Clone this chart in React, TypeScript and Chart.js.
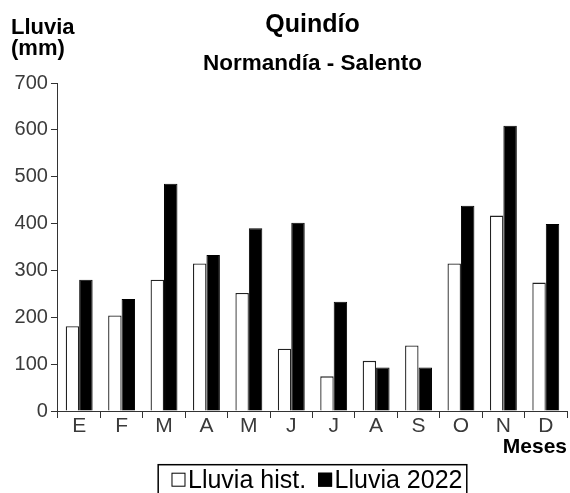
import React, { useEffect, useRef } from "react";
import { Chart, registerables } from "chart.js";

Chart.register(...registerables);

const months = ["E", "F", "M", "A", "M", "J", "J", "A", "S", "O", "N", "D"];
const lluviaHist = [181, 204, 280, 315, 252, 133, 74, 107, 140, 315, 417, 274];
const lluvia2022 = [280, 239, 485, 333, 390, 402, 233, 93, 93, 438, 609, 399];
const yTicks = [0, 100, 200, 300, 400, 500, 600, 700];
const seriesNames = ["Lluvia hist.", "Lluvia 2022"];
const titleText = "Quindío";
const subtitleText = "Normandía - Salento";
const yTitleLines = ["Lluvia", "(mm)"];
const xTitleText = "Meses";

const FAMILY = "'Liberation Sans', Arial, Helvetica, sans-serif";

const yLabelPlugin = {
  id: "yLabelTop",
  afterDraw(chart: any) {
    const ctx = chart.ctx;
    ctx.save();
    ctx.fillStyle = "#000";
    ctx.font = `bold 22px ${FAMILY}`;
    ctx.textAlign = "left";
    ctx.textBaseline = "alphabetic";
    ctx.fillText(yTitleLines[0], 11, 33.5);
    ctx.fillText(yTitleLines[1], 11, 54.5);
    ctx.restore();
  },
};

const boxedLegendPlugin = {
  id: "boxedLegend",
  afterDraw(chart: any) {
    const ctx = chart.ctx;
    const area = chart.chartArea;
    const ds = chart.data.datasets;
    ctx.save();
    ctx.font = `25px ${FAMILY}`;
    const sq = 14;
    const gapText = 2.5;
    const gapItem = 12;
    const widths = ds.map((d: any) => ctx.measureText(d.label).width);
    let content = 0;
    ds.forEach((d: any, i: number) => {
      content += sq + gapText + widths[i];
      if (i < ds.length - 1) content += gapItem;
    });
    const padL = 13.3;
    const padR = 4.3;
    const boxW = content + padL + padR;
    const cx = (area.left + area.right) / 2;
    const boxLeft = cx - boxW / 2;
    const boxTop = chart.height - 28.3;
    const baseline = chart.height - 5.3;
    ctx.strokeStyle = "#000";
    ctx.lineWidth = 1.5;
    ctx.strokeRect(boxLeft, boxTop, boxW, 60);
    let x = boxLeft + padL;
    ds.forEach((d: any, i: number) => {
      const top = baseline - 1 - sq;
      ctx.fillStyle = d.backgroundColor;
      ctx.fillRect(x, top, sq, sq);
      ctx.strokeStyle = "#000";
      ctx.lineWidth = 1;
      ctx.strokeRect(x + 0.5, top + 0.5, sq - 1, sq - 1);
      x += sq + gapText;
      ctx.fillStyle = "#000";
      ctx.textAlign = "left";
      ctx.textBaseline = "alphabetic";
      ctx.fillText(d.label, x, baseline);
      x += widths[i] + gapItem;
    });
    ctx.restore();
  },
};

export default function App() {
  const canvasRef = useRef<HTMLCanvasElement | null>(null);

  useEffect(() => {
    if (!canvasRef.current) return;
    Chart.defaults.font.family = FAMILY;
    const chart = new Chart(canvasRef.current, {
      type: "bar",
      data: {
        labels: months,
        datasets: [
          {
            label: seriesNames[0],
            data: lluviaHist,
            backgroundColor: "#ffffff",
            borderColor: "#222222",
            borderWidth: 1.3,
            categoryPercentage: 0.634,
            barPercentage: 1,
          },
          {
            label: seriesNames[1],
            data: lluvia2022,
            backgroundColor: "#000000",
            borderColor: "#000000",
            borderWidth: 1,
            categoryPercentage: 0.634,
            barPercentage: 1,
          },
        ],
      },
      options: {
        animation: false,
        responsive: false,
        devicePixelRatio: 1,
        layout: { padding: { left: 11.6, right: 3, top: 0, bottom: 32.9 } },
        plugins: {
          legend: { display: false },
          tooltip: { enabled: false },
          title: {
            display: true,
            text: titleText,
            color: "#000",
            fullSize: false,
            font: { size: 25, weight: "bold" },
            padding: { top: 10, bottom: 0 },
          },
          subtitle: {
            display: true,
            text: subtitleText,
            color: "#000",
            fullSize: false,
            font: { size: 22.5, weight: "bold" },
            padding: { top: 9.8, bottom: 6.2 },
          },
        },
        scales: {
          x: {
            grid: {
              display: true,
              offset: true,
              drawOnChartArea: false,
              drawTicks: true,
              tickLength: 7,
              color: "#333",
            },
            border: { display: true, color: "#333", width: 1 },
            ticks: { color: "#3a3a3a", font: { size: 21 }, padding: -4 },
            title: {
              display: true,
              text: xTitleText,
              align: "end",
              color: "#000",
              font: { size: 21, weight: "bold" },
              padding: { top: -0.3, bottom: 0 },
            },
          },
          y: {
            min: 0,
            max: 700,
            afterBuildTicks: (axis: any) => {
              axis.ticks = yTicks.map((v) => ({ value: v }));
            },
            grid: {
              display: true,
              drawOnChartArea: false,
              drawTicks: true,
              tickLength: 7,
              color: "#333",
            },
            border: { display: true, color: "#333", width: 1 },
            ticks: { color: "#3a3a3a", font: { size: 20 }, padding: 3 },
          },
        },
      },
      plugins: [yLabelPlugin, boxedLegendPlugin],
    } as any);
    return () => chart.destroy();
  }, []);

  return (
    <div style={{ position: "absolute", left: 0, top: 0, width: 570, height: 493, background: "#fff" }}>
      <canvas ref={canvasRef} width={570} height={493} style={{ display: "block" }} />
    </div>
  );
}
